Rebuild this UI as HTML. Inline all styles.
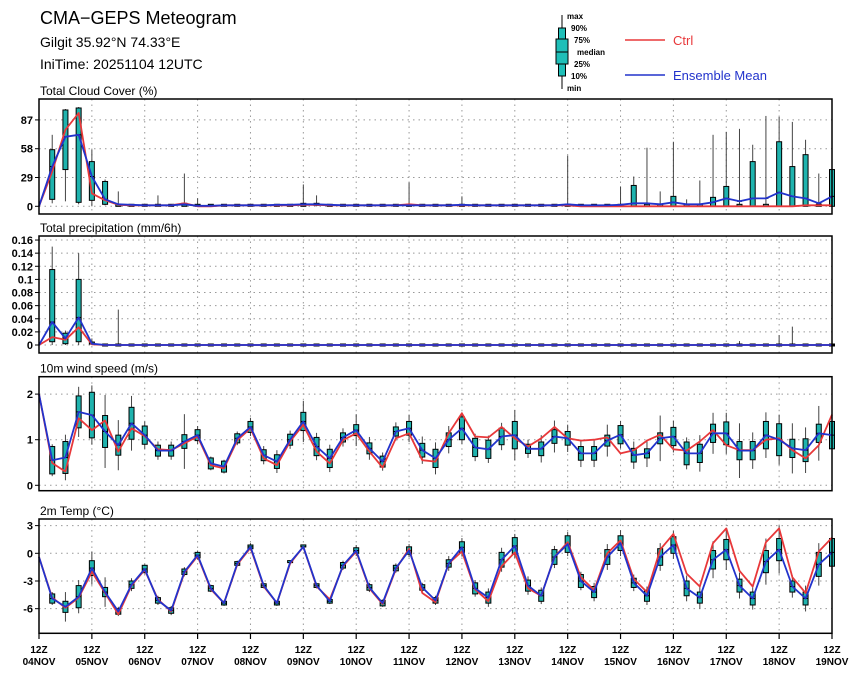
<!DOCTYPE html>
<html><head><meta charset="utf-8">
<style>
html,body{margin:0;padding:0;background:#fff;}
svg text{font-family:"Liberation Sans",sans-serif;}
</style></head>
<body>
<svg id="chart" width="860" height="671" viewBox="0 0 860 671" xmlns="http://www.w3.org/2000/svg">
<text x="40" y="24" font-size="18" fill="#000">CMA−GEPS Meteogram</text>
<text x="40" y="47" font-size="14" fill="#000">Gilgit 35.92°N 74.33°E</text>
<text x="40" y="69" font-size="14" fill="#000">IniTime: 20251104 12UTC</text>
<g>
<line x1="562" y1="15" x2="562" y2="89" stroke="#000" stroke-width="1"/>
<rect x="558.5" y="28" width="7" height="48" fill="#1fbfb8" stroke="#000" stroke-width="1"/>
<rect x="556" y="39" width="12" height="25" fill="#1fbfb8" stroke="#000" stroke-width="1"/>
<line x1="556" y1="52" x2="568" y2="52" stroke="#000" stroke-width="1"/>
<text x="567" y="19" font-size="8" font-weight="bold">max</text>
<text x="571" y="31" font-size="8" font-weight="bold">90%</text>
<text x="574" y="43" font-size="8" font-weight="bold">75%</text>
<text x="577" y="55" font-size="8" font-weight="bold">median</text>
<text x="574" y="67" font-size="8" font-weight="bold">25%</text>
<text x="571" y="79" font-size="8" font-weight="bold">10%</text>
<text x="567" y="91" font-size="8" font-weight="bold">min</text>
</g>
<g>
<line x1="625" y1="40" x2="665" y2="40" stroke="#e8383a" stroke-width="1.5"/>
<text x="673" y="45" font-size="13" fill="#e8383a">Ctrl</text>
</g>
<g>
<line x1="625" y1="75" x2="665" y2="75" stroke="#2233cc" stroke-width="1.5"/>
<text x="673" y="80" font-size="13" fill="#2233cc">Ensemble Mean</text>
</g>
</svg>
<script>
// ---- data (61 steps, 6-hourly from 12Z 04NOV) ----
const dayLabels = ["04NOV","05NOV","06NOV","07NOV","08NOV","09NOV","10NOV","11NOV","12NOV","13NOV","14NOV","15NOV","16NOV","17NOV","18NOV","19NOV"];

const cloudMean = [0,40,70,72,30,7,2,1.5,1,1, 1,2,0.5,0.5,1,1,1,1,1.5,1.5, 2,2,1.5,1,1,1,1,1,1,1, 1,1,1.5,1,1,1,1,1,1,1, 2,1,1,1,1.5,3,3,2,4,2, 2,4,8,5,8,8,14,10,8,3, 10];
const cloudCtrl = [0,35,77,94,13,6,1.5,1,1,1, 1,3,0,0,1,1,1,1,1,1, 1.5,1.5,1,1,1,1,1,1,2,1, 1,1,1,1,1,1,1,1,1,1, 1,0,0,0,0,0,0,0,0,0, 0,0,0,0,0,0,0,0,1,1, 1];
const cloudQ1 = [0,7,37,4,6,2,0,0,0,0, 0,0,0,0,0,0,0,0,0,0, 0,0,0,0,0,0,0,0,0,0, 0,0,0,0,0,0,0,0,0,0, 0,0,0,0,0,0,0,0,0,0, 0,0,0,0,0,0,0,0,0,0, 0];
const cloudQ3 = [0,57,97,99,45,25,1,1,1,1, 1,3,1,1,1,1,1,1,1,1, 3,2,1,1,1,1,1,1,1,1, 1,1,1,1,1,1,1,1,1,1, 1,1,1,1,1,21,1,1,10,1, 1,9,20,1,45,1,65,40,52,1, 37];
const cloudMin = [0,3,5,2,0,1,0,0,0,0, 0,0,0,0,0,0,0,0,0,0, 0,0,0,0,0,0,0,0,0,0, 0,0,0,0,0,0,0,0,0,0, 0,0,0,0,0,0,0,0,0,0, 0,0,0,0,0,0,0,0,0,0, 0];
const cloudMax = [0,72,98,100,57,27,15,1,1,11, 1,33,8,1,1,1,1,1,1,1, 22,11,1,1,1,1,1,1,24,1, 1,1,10,1,1,1,1,1,1,1, 51,1,1,1,20,30,59,15,65,7, 26,72,75,78,62,91,90,85,67,33, 37];
const cloudTicks = [0,29,58,87];

const precMean = [0,0.035,0.01,0.042,0.002,0,0,0,0,0, 0,0,0,0,0,0,0,0,0,0, 0,0,0,0,0,0,0,0,0,0, 0,0,0,0,0,0,0,0,0,0, 0,0,0,0,0,0,0,0,0,0, 0,0,0,0,0,0,0,0,0,0, 0];
const precCtrl = [0,0.012,0.008,0.027,0.001,0,0,0,0,0, 0,0,0,0,0,0,0,0,0,0, 0,0,0,0,0,0,0,0,0,0, 0,0,0,0,0,0,0,0,0,0, 0,0,0,0,0,0,0,0,0,0, 0,0,0,0,0,0,0,0,0,0, 0];
const precQ1 = [0,0.005,0.002,0.005,0,0,0,0,0,0, 0,0,0,0,0,0,0,0,0,0, 0,0,0,0,0,0,0,0,0,0, 0,0,0,0,0,0,0,0,0,0, 0,0,0,0,0,0,0,0,0,0, 0,0,0,0,0,0,0,0,0,0, 0];
const precQ3 = [0,0.115,0.018,0.1,0.003,0,0,0,0,0, 0,0,0,0,0,0,0,0,0,0, 0,0,0,0,0,0,0,0,0,0, 0,0,0,0,0,0,0,0,0,0, 0,0,0,0,0,0,0,0,0,0, 0,0,0,0,0,0,0,0,0,0, 0];
const precMax = [0,0.15,0.022,0.14,0.01,0,0.054,0,0,0, 0,0,0,0,0,0,0,0,0,0, 0,0,0,0,0,0,0,0,0,0, 0,0,0,0,0,0,0,0,0,0, 0,0,0,0,0,0,0,0,0,0, 0,0,0,0.006,0,0,0.015,0.028,0,0, 0];
const precTicks = [0,0.02,0.04,0.06,0.08,0.1,0.12,0.14,0.16];

const windMean = [2.0,0.55,0.61,1.61,1.54,1.18,0.88,1.36,1.1,0.76, 0.76,0.96,1.1,0.48,0.41,1.03,1.28,0.66,0.52,1.0, 1.4,0.85,0.59,1.05,1.21,0.81,0.52,1.18,1.25,0.77, 0.59,1.0,1.25,0.83,0.79,1.07,1.1,0.8,0.8,1.07, 1.03,0.7,0.7,0.98,1.11,0.66,0.7,1.03,1.07,0.7, 0.7,1.14,1.14,0.76,0.76,1.1,1.0,0.81,0.77,1.14, 1.1];
const windCtrl = [2.0,0.49,0.30,1.47,1.21,1.42,0.74,1.25,1.08,0.79, 0.77,0.92,1.07,0.44,0.37,0.99,1.25,0.59,0.44,0.96, 1.33,0.74,0.48,0.99,1.14,0.74,0.39,1.03,1.14,0.55, 0.52,1.14,1.58,1.07,1.05,1.28,1.03,0.85,1.03,1.28, 1.03,0.98,1.0,1.05,0.7,0.77,0.98,1.11,0.79,0.76, 0.96,1.21,0.88,0.77,0.77,1.0,1.03,0.77,0.59,0.88, 1.55];
const windBoxHalf = [0,0.3,0.35,0.35,0.5,0.35,0.22,0.35,0.2,0.12, 0.12,0.15,0.12,0.12,0.12,0.1,0.12,0.12,0.15,0.12, 0.2,0.2,0.2,0.1,0.12,0.12,0.12,0.1,0.15,0.15, 0.2,0.15,0.25,0.2,0.2,0.18,0.3,0.1,0.15,0.15, 0.15,0.15,0.15,0.12,0.2,0.15,0.1,0.12,0.2,0.25, 0.2,0.2,0.25,0.2,0.2,0.3,0.35,0.2,0.25,0.2, 0.3];
const windWhiskHalf = [0,0.35,0.5,0.55,0.65,0.8,0.55,0.6,0.3,0.2, 0.2,0.6,0.2,0.15,0.15,0.15,0.2,0.2,0.25,0.2, 0.45,0.3,0.3,0.2,0.35,0.25,0.2,0.2,0.3,0.3, 0.35,0.3,0.35,0.3,0.3,0.3,0.55,0.2,0.3,0.35, 0.3,0.3,0.3,0.35,0.3,0.3,0.3,0.5,0.35,0.35, 0.4,0.45,0.45,0.6,0.4,0.5,0.55,0.55,0.5,0.6, 0.45];
const windTicks = [0,1,2];

const tempMean = [-0.4,-4.9,-5.8,-4.7,-1.6,-4.2,-6.3,-3.4,-1.7,-5.1, -6.2,-2.0,-0.2,-3.8,-5.4,-1.1,0.7,-3.5,-5.4,-1.0, 0.7,-3.5,-5.2,-1.3,0.3,-3.7,-5.4,-1.6,0.3,-3.7, -5.1,-1.1,0.65,-3.8,-4.8,-0.7,0.8,-3.5,-4.6,-0.4, 1.0,-3.0,-4.2,-0.4,1.1,-3.2,-4.6,-0.4,0.9,-3.8, -4.8,-0.7,0.4,-3.5,-4.9,-0.9,0.4,-3.6,-4.9,-1.2, 0.1];
const tempCtrl = [-0.4,-4.8,-5.9,-4.8,-2.0,-4.3,-6.6,-3.5,-1.8,-5.0, -6.3,-2.1,-0.3,-3.9,-5.4,-1.2,0.6,-3.6,-5.4,-1.1, 0.7,-3.6,-5.0,-1.4,0.2,-3.8,-5.5,-1.7,0.5,-4.3, -5.3,-1.1,0.2,-3.9,-5.2,-1.4,0.1,-3.8,-4.6,-0.4, 1.2,-2.6,-4.0,0.0,1.4,-2.8,-4.2,0.4,2.1,-2.2, -3.6,1.1,2.7,-1.9,-3.6,1.2,2.7,-2.6,-4.3,0.2, 1.7];
const tempBoxHalf = [0,0.5,0.6,1.2,0.8,0.5,0.3,0.4,0.4,0.3, 0.3,0.3,0.3,0.3,0.2,0.2,0.2,0.2,0.2,0.1, 0.1,0.2,0.2,0.3,0.3,0.3,0.3,0.3,0.4,0.3, 0.3,0.4,0.6,0.6,0.6,0.8,0.9,0.6,0.6,0.8, 0.9,0.7,0.6,0.8,0.8,0.5,0.6,0.9,0.9,0.8, 0.6,1.0,1.1,0.7,0.7,1.2,1.2,0.6,0.7,1.3, 1.5];
const tempWhiskHalf = [0,0.7,1.6,1.8,1.8,1.6,0.5,0.7,0.5,0.5, 0.5,0.5,0.5,0.4,0.3,0.3,0.4,0.3,0.3,0.2, 0.2,0.3,0.3,0.5,0.6,0.5,0.4,0.5,0.7,0.5, 0.5,0.8,1.0,0.9,1.0,1.3,1.3,1.0,0.9,1.2, 1.3,1.0,1.0,1.4,1.4,0.9,1.0,1.5,1.5,1.4, 1.2,2.0,2.2,1.4,1.2,2.5,2.6,1.2,1.4,2.3, 2.2];
const tempTicks = [-6,-3,0,3];

// ---- layout ----
const NS = "http://www.w3.org/2000/svg";
const svg = document.getElementById('chart');
const X0 = 39, X1 = 832, NSTEP = 60;
function xs(i){ return X0 + (X1 - X0) * i / NSTEP; }
function mk(tag, attrs, parent){
  const e = document.createElementNS(NS, tag);
  for (const k in attrs) e.setAttribute(k, attrs[k]);
  (parent || svg).appendChild(e);
  return e;
}

function panel(cfg){
  const g = mk('g', {});
  
  
  const ys = v => cfg.y0 - (v - 0) * cfg.k;
  // title
  const t = mk('text', {x: 40, y: cfg.top - 4, 'font-size': 12}, g);
  
  
  t.textContent = cfg.title;
  // grid
  for (let d = 1; d < 15; d++){
    const gx = xs(d * 4);
    const l = mk('line', {x1: gx, x2: gx, y1: cfg.top, y2: cfg.bottom, stroke: '#999', 'stroke-width': 1, 'stroke-dasharray': '1.5,4'}, g);
    
    
  }
  cfg.ticks.forEach((tv, i) => {
    const y = ys(tv);
    const l = mk('line', {x1: X0, x2: X1, y1: y, y2: y, stroke: '#999', 'stroke-width': 1, 'stroke-dasharray': '1.5,4'}, g);
    
    
    const tk = mk('line', {x1: X0 - 4, x2: X0, y1: y, y2: y, stroke: '#000', 'stroke-width': 1}, g);
    
    
    const lb = mk('text', {x: 33, y: y + 4, 'font-size': 11, 'font-weight': 'bold', 'text-anchor': 'end'}, g);
    
    
    lb.textContent = cfg.fmt ? cfg.fmt(tv) : String(tv);
  });
  // boxes
  for (let i = 1; i <= NSTEP; i++){
    const x = xs(i);
    const lo = cfg.min(i), hi = cfg.max(i), q1 = cfg.q1(i), q3 = cfg.q3(i), md = cfg.med(i);
    const w = mk('line', {x1: x, x2: x, y1: ys(lo), y2: ys(hi), stroke: '#444', 'stroke-width': 1}, g);
    
    
    const bh = Math.max(ys(q1) - ys(q3), 2);
    const b = mk('rect', {x: x - 2.5, y: ys(q3) - (bh === 2 ? 1 : 0), width: 5, height: bh, fill: '#1fb3ae', stroke: '#000', 'stroke-width': 1}, g);
    
    
    const m = mk('line', {x1: x - 2.5, x2: x + 2.5, y1: ys(md), y2: ys(md), stroke: '#000', 'stroke-width': 1}, g);
    
    
  }
  // lines
  const pts = arr => arr.map((v, i) => xs(i).toFixed(1) + ',' + ys(v).toFixed(1)).join(' ');
  const pc = mk('polyline', {points: pts(cfg.ctrl), fill: 'none', stroke: '#e8383a', 'stroke-width': 1.8, 'stroke-linejoin': 'round'}, g);
  
  
  const pm = mk('polyline', {points: pts(cfg.mean), fill: 'none', stroke: '#2233cc', 'stroke-width': 1.8, 'stroke-linejoin': 'round'}, g);
  
  
  // frame
  const f = mk('rect', {x: X0, y: cfg.top, width: X1 - X0, height: cfg.bottom - cfg.top, fill: 'none', stroke: '#000', 'stroke-width': 1.5}, g);
  
  
}

panel({name: 'cloud-cover-panel', title: 'Total Cloud Cover (%)', top: 99, bottom: 214, y0: 206.3, k: 0.993, ticks: cloudTicks,
  mean: cloudMean, ctrl: cloudCtrl, min: i => cloudMin[i], max: i => cloudMax[i], q1: i => cloudQ1[i], q3: i => cloudQ3[i], med: i => cloudMean[i]});
panel({name: 'precipitation-panel', title: 'Total precipitation (mm/6h)', top: 236, bottom: 353, y0: 345, k: 656, ticks: precTicks,
  fmt: v => v === 0 ? '0' : String(+v.toFixed(2)),
  mean: precMean, ctrl: precCtrl, min: i => 0, max: i => precMax[i], q1: i => precQ1[i], q3: i => precQ3[i], med: i => precMean[i]});
panel({name: 'wind-speed-panel', title: '10m wind speed (m/s)', top: 376.7, bottom: 490.7, y0: 485.3, k: 45.6, ticks: windTicks,
  mean: windMean, ctrl: windCtrl, min: i => windMean[i] - windWhiskHalf[i], max: i => windMean[i] + windWhiskHalf[i],
  q1: i => windMean[i] - windBoxHalf[i], q3: i => windMean[i] + windBoxHalf[i], med: i => windMean[i]});
panel({name: 'temperature-panel', title: '2m Temp (°C)', top: 519, bottom: 633.3, y0: 553.3, k: 9.23, ticks: tempTicks,
  mean: tempMean, ctrl: tempCtrl, min: i => tempMean[i] - tempWhiskHalf[i], max: i => tempMean[i] + tempWhiskHalf[i],
  q1: i => tempMean[i] - tempBoxHalf[i], q3: i => tempMean[i] + tempBoxHalf[i], med: i => tempMean[i]});

// x axis labels
dayLabels.forEach((d, k) => {
  const x = xs(k * 4);
  const tk = mk('line', {x1: x, x2: x, y1: 633.3, y2: 639, stroke: '#000', 'stroke-width': 1.2});
  
  
  const t1 = mk('text', {x: x, y: 653, 'font-size': 10, 'font-weight': 'bold', 'text-anchor': 'middle'});
  
  
  t1.textContent = '12Z';
  const t2 = mk('text', {x: x, y: 665, 'font-size': 10, 'font-weight': 'bold', 'text-anchor': 'middle'});
  
  
  t2.textContent = d;
});
</script>
</body></html>
